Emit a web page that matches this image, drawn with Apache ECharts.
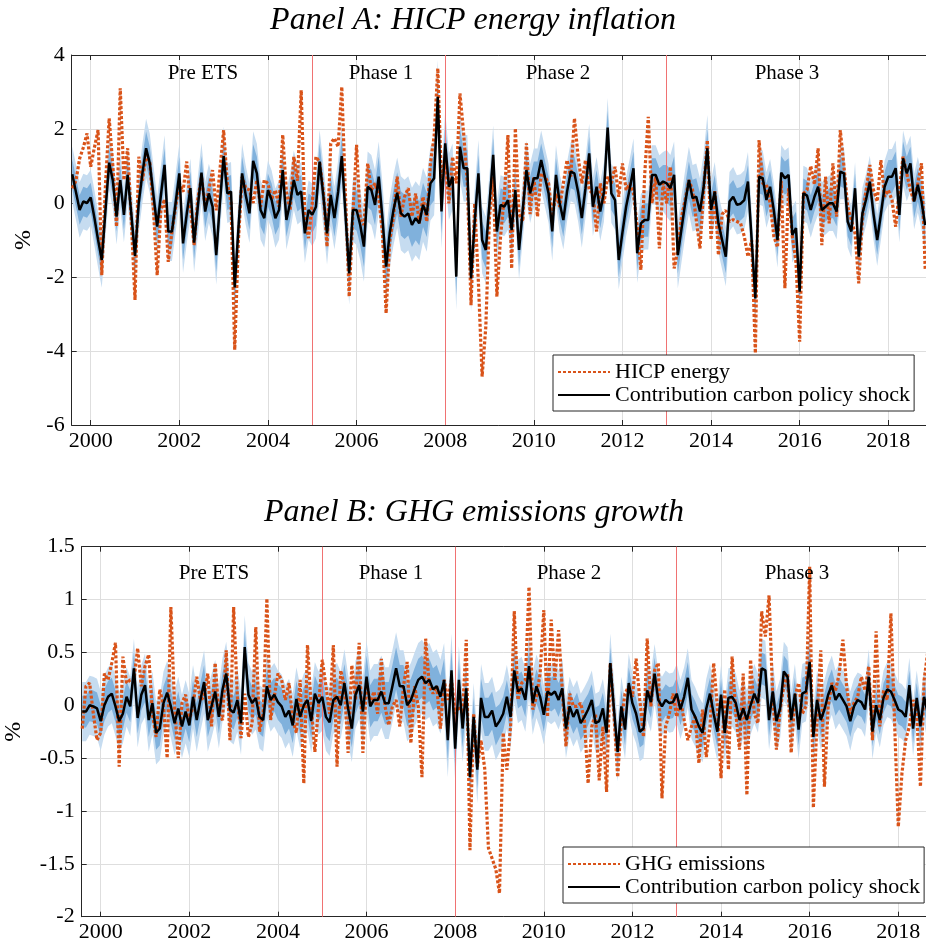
<!DOCTYPE html>
<html><head><meta charset="utf-8">
<script src="https://cdn.jsdelivr.net/npm/echarts@6/dist/echarts.min.js"></script>
<style>html,body{margin:0;padding:0;background:#fff}#c{width:926px;height:948px}</style>
</head><body><div id="c"></div>
<script>
// ---- data (monthly, starting Aug 1999) ----
const startYear = 1999, startMonth = 8;
const yearTicks = [2000,2002,2004,2006,2008,2010,2012,2014,2016,2018];
const phaseBreaks = [2005, 2008, 2013];
const phaseNames = ['Pre ETS','Phase 1','Phase 2','Phase 3'];

const hicpEnergy = [0.4,0.6,1.2,1.5,1.88,0.98,1.5,1.97,-1.95,0.5,
 2.29,1.0,-0.64,3.1,0.62,1.48,-0.5,-2.62,1.25,0.6,
 1.3,1.1,-0.2,-1.95,-0.2,0.1,-1.59,-0.77,-0.1,0.53,
 0.3,1.12,-0.1,-1.14,0.1,0.71,-0.1,0.35,0.89,-0.2,
 0.9,1.97,0.53,0.0,-3.97,-1.0,0.71,0.4,0.35,0.0,
 0.62,-0.1,0.62,0.53,0.1,0.35,-0.1,1.84,0.3,-0.2,
 1.25,0.6,3.05,-0.4,-0.95,0.0,1.25,1.1,0.3,-1.18,
 1.61,1.75,1.52,3.14,0.2,-2.53,-0.3,1.57,-0.46,-0.59,
 1.07,0.35,0.53,0.17,-0.8,-2.98,-1.0,-0.37,0.71,-0.37,
 0.17,0.4,-0.37,0.26,-0.55,0.17,-0.5,1.07,1.8,3.64,
 0.53,1.25,-0.01,1.25,0.53,2.96,1.88,0.53,-2.76,-0.01,
 -2.16,-4.69,-3.35,-0.37,0.71,-2.53,-0.9,0.17,1.84,-1.77,
 2.02,-0.3,-0.5,1.61,-0.3,0.71,-0.37,0.8,0.71,0.53,
 -0.37,0.26,-0.1,0.53,1.16,0.71,2.29,1.25,0.53,1.16,
 0.35,0.26,-0.77,0.53,-0.01,0.71,0.53,0.98,0.17,1.07,
 0.35,0.53,0.26,-0.64,-1.81,0.71,2.33,-0.01,0.71,-1.23,
 0.53,-0.01,0.98,-1.77,-1.27,-0.37,0.08,0.62,0.35,-0.46,
 -1.23,0.35,1.7,-1.0,0.35,-1.41,-0.3,-0.2,-0.5,-0.45,
 -0.5,-0.55,-0.9,-1.45,-1.0,-4.06,1.7,0.53,0.5,0.0,
 -0.9,-1.2,0.6,-2.3,0.4,-0.9,-1.6,-3.75,0.26,0.35,
 1.0,0.5,1.48,-1.14,0.71,-0.55,1.07,-0.37,1.97,0.98,
 -0.1,-0.46,-0.82,-2.17,-0.37,0.35,1.03,0.35,0.04,1.16,
 0.17,0.35,0.08,-0.64,0.35,1.25,0.8,0.35,0.04,0.53,
 1.07,-1.8];

const contribA = [0.78,0.3,-0.19,0.04,0.0,0.15,-0.4,-1.0,-1.54,-0.2,
 1.09,0.6,-0.37,0.62,-0.32,0.76,-0.3,-1.43,0.0,0.8,
 1.48,1.07,0.2,-0.64,0.2,1.03,-0.77,-0.77,0.0,0.8,
 -1.09,-0.3,0.4,-1.07,-0.1,0.82,-0.23,0.26,-0.1,-1.41,
 0.0,1.27,0.26,0.31,-2.28,-0.7,0.8,0.2,-0.28,1.14,
 0.8,-0.19,-0.41,0.35,0.08,-0.41,-0.19,0.89,-0.46,0.0,
 0.62,0.22,0.31,-0.82,-0.19,-0.32,-0.1,1.12,0.2,-0.82,
 0.22,-0.41,0.3,1.27,-0.3,-1.9,-0.19,-0.19,-0.6,-1.18,
 0.44,0.35,-0.05,0.71,-0.4,-1.72,-0.8,-0.19,0.28,-0.28,
 -0.37,-0.28,-0.59,-0.41,-0.55,-0.05,-0.32,0.53,0.67,2.87,
 -0.23,1.61,0.44,0.71,-1.99,1.52,0.94,0.94,-2.04,-0.5,
 0.8,-1.0,-1.27,0.0,1.3,-0.77,-0.05,-0.1,0.08,-0.73,
 0.35,-1.27,-0.2,0.89,0.26,0.67,0.67,1.16,0.7,0.26,
 -0.77,0.76,0.0,-0.46,0.3,0.85,0.8,0.3,-0.41,0.4,
 1.34,-0.1,0.44,-0.23,0.3,2.04,0.26,0.08,-1.54,-0.8,
 -0.1,0.4,0.94,-1.36,-0.55,-0.46,-0.46,0.76,0.76,0.49,
 0.58,0.53,0.4,0.76,-1.41,-0.7,0.0,0.62,0.13,0.17,
 -0.23,0.44,1.48,-0.19,0.31,-0.55,-1.0,-1.45,0.04,0.17,
 -0.05,-0.02,0.08,0.58,-1.0,-2.58,0.71,0.67,0.08,0.44,
 -0.2,-1.0,0.82,0.67,0.76,-0.86,-0.68,-2.4,0.26,0.2,
 -0.19,0.17,0.44,-0.19,-0.1,-0.01,-0.01,-0.23,0.85,0.8,
 -0.5,-0.77,0.4,-1.45,-0.28,0.1,0.58,-0.3,-1.0,-0.3,
 0.44,0.71,0.71,0.94,-0.32,1.21,0.8,1.07,0.04,0.49,
 0.04,-0.6];

const ghgEmissions = [-0.22,0.18,0.21,-0.08,-0.33,-0.26,0.3,0.24,0.4,0.59,
 -0.58,0.46,0.21,0.24,0.24,0.54,0.18,0.37,0.48,-0.08,
 -0.3,0.15,-0.01,-0.5,0.93,-0.01,-0.5,0.02,0.1,-0.14,
 -0.01,0.27,0.05,0.08,0.3,-0.2,0.4,-0.08,-0.14,0.52,
 -0.33,0.93,0.08,-0.31,0.11,-0.3,-0.17,0.74,-0.25,-0.08,
 1.01,-0.14,0.08,0.3,0.24,0.05,0.21,-0.14,-0.26,0.24,
 -0.74,0.57,-0.01,-0.44,-0.01,0.43,0.18,-0.08,0.57,-0.58,
 0.33,0.18,-0.45,0.38,0.05,0.59,-0.45,0.21,0.02,0.13,
 -0.08,0.44,-0.01,-0.19,-0.01,0.05,-0.2,0.18,0.41,-0.36,
 0.18,-0.01,-0.68,0.63,0.18,0.11,0.18,-0.22,0.24,0.05,
 0.24,-0.08,-0.01,-0.08,0.62,-1.37,-0.08,-0.58,-0.33,-0.6,
 -1.35,-1.45,-1.55,-1.78,-0.26,-0.61,-0.2,0.89,0.05,0.21,
 0.24,1.12,-0.04,0.08,0.3,0.9,-0.11,0.81,0.24,0.71,
 0.15,-0.39,0.11,-0.01,-0.01,0.02,-0.14,-0.74,-0.2,-0.08,
 -0.71,-0.2,-0.82,0.4,-0.08,-0.68,-0.14,0.11,0.18,0.08,
 0.44,0.05,-0.3,0.63,-0.01,0.33,0.4,-0.88,-0.2,-0.08,
 0.11,-0.11,0.05,-0.14,-0.33,-0.2,-0.11,-0.55,-0.04,-0.49,
 -0.2,0.4,-0.01,-0.69,0.15,-0.61,0.46,-0.08,-0.42,0.3,
 -0.85,0.43,-0.08,-0.17,0.89,0.65,1.04,0.08,-0.42,-0.04,
 0.18,0.3,-0.45,0.08,0.21,-0.08,-0.01,1.31,-0.97,-0.14,
 0.52,-0.77,-0.01,0.21,0.14,0.3,0.62,0.18,-0.08,0.02,
 0.08,0.27,0.14,0.37,-0.33,0.7,-0.2,0.14,0.05,0.87,
 -0.17,-1.15,-0.64,-0.33,-0.2,0.05,-0.08,-0.77,0.24,0.51];

const contribB = [-0.06,-0.06,0.0,-0.01,-0.03,-0.15,0.0,0.08,0.11,-0.01,
 -0.15,-0.08,0.08,-0.01,0.35,-0.12,0.1,0.19,-0.14,0.02,
 -0.26,-0.22,0.02,0.12,-0.01,-0.17,-0.03,-0.2,-0.06,-0.19,
 0.08,-0.14,0.05,0.22,-0.14,-0.01,0.13,-0.11,0.15,0.3,
 -0.04,-0.07,0.05,-0.17,0.55,0.1,0.02,0.07,-0.11,-0.14,
 0.18,0.05,0.1,0.03,-0.01,-0.11,-0.05,-0.19,0.06,-0.11,
 0.0,0.05,-0.15,0.11,0.02,0.08,-0.11,-0.16,0.05,0.08,
 0.0,0.21,-0.03,-0.22,0.1,0.19,-0.06,0.27,-0.01,0.05,
 0.05,0.13,0.02,0.02,0.18,0.35,0.18,0.18,0.0,0.05,
 0.15,0.24,0.27,0.21,0.24,0.15,0.18,0.08,0.24,-0.33,
 0.33,-0.41,0.24,-0.22,0.16,-0.68,-0.11,-0.61,0.07,-0.11,
 -0.11,-0.05,-0.2,-0.15,-0.08,0.08,-0.11,0.33,0.13,0.16,
 0.05,0.37,0.02,0.18,0.08,-0.09,0.13,0.1,0.13,0.05,
 0.16,-0.22,-0.01,-0.11,-0.04,-0.17,-0.11,-0.04,0.05,-0.17,
 -0.15,-0.03,-0.26,0.4,-0.04,-0.44,-0.01,-0.23,0.21,0.02,
 -0.08,-0.25,-0.22,0.14,0.03,0.3,0.05,-0.01,0.05,0.02,
 0.03,0.11,-0.04,0.08,0.26,-0.04,-0.11,-0.2,-0.26,-0.03,
 0.11,-0.08,-0.25,0.1,-0.26,0.07,0.08,0.02,-0.14,-0.03,
 -0.14,0.0,0.11,0.02,0.35,0.33,-0.14,0.13,-0.15,-0.03,
 0.32,0.27,-0.14,0.11,-0.23,0.11,0.13,0.41,-0.3,0.05,
 -0.14,-0.04,0.1,0.19,0.05,0.11,0.05,-0.01,-0.15,-0.01,
 0.05,0.03,-0.04,0.27,-0.25,0.0,-0.14,0.07,0.15,0.13,
 0.05,-0.04,-0.06,-0.11,0.19,-0.22,0.07,-0.2,0.08,-0.08];

// credible-band half widths, one per calendar year 1999..2018
const bandYears = [1999,2000,2001,2002,2003,2004,2005,2006,2007,2008,2009,2010,2011,2012,2013,2014,2015,2016,2017,2018];
const innerHalfA = [0.4,0.4,0.45,0.45,0.45,0.45,0.5,0.55,0.6,0.5,0.45,0.45,0.45,0.45,0.5,0.45,0.45,0.4,0.4,0.45];
const outerHalfA = [0.75,0.75,0.8,0.8,0.8,0.8,0.85,0.95,1.0,0.9,0.8,0.8,0.8,0.8,0.9,0.8,0.75,0.75,0.7,0.75];
const innerHalfB = [0.15,0.15,0.16,0.16,0.16,0.17,0.18,0.2,0.2,0.18,0.16,0.16,0.15,0.15,0.15,0.15,0.15,0.15,0.14,0.14];
const outerHalfB = [0.28,0.28,0.3,0.3,0.3,0.3,0.32,0.34,0.35,0.32,0.3,0.28,0.28,0.28,0.28,0.28,0.28,0.28,0.26,0.26];

// ---- layout ----
const FONT = 'Liberation Serif';
const axisStart = 1999.571;
const gridA = {left:71.7, top:55, right:0, height:370, containLabel:false, outerBoundsMode:'none'};
const gridB = {left:81.7, top:546.7, right:0, height:370, containLabel:false, outerBoundsMode:'none'};
const xMaxA = axisStart + (926 - 71.7) / 44.31;
const xMaxB = axisStart + (926 - 81.7) / 44.31;

function monthX(i){ return startYear + (startMonth - 1 + i) / 12; }
function halfAt(arr, i){ return arr[Math.floor(monthX(i) + 1e-9) - bandYears[0]]; }
function pairs(vals){ return vals.map((v,i)=>[monthX(i), v]); }

function band(vals, half, color, gi, z){
  const lo = vals.map((v,i)=>[monthX(i), v - halfAt(half,i)]);
  const hi = vals.map((v,i)=>[monthX(i), v + halfAt(half,i)]);
  return {
    type:'custom', xAxisIndex:gi*2, yAxisIndex:gi, silent:true, z, clip:true,
    data: lo.map((p,i)=>[p[0], p[1], hi[i][1]]),
    encode:{x:0, y:[1,2]},
    renderItem:(params, api)=>{
      if (params.dataIndex !== 0) return null;
      const up = hi.map(p=>api.coord(p));
      const dn = lo.map(p=>api.coord(p)).reverse();
      return {type:'polygon', shape:{points: up.concat(dn)}, style:{fill:color}};
    }
  };
}

const AX = '#262626';
function xAxes(gi, max){
  return [
    {type:'value', gridIndex:gi, min:axisStart, max, position:'bottom',
     axisLine:{show:true, onZero:false, lineStyle:{color:AX, width:1}},
     axisTick:{show:true, inside:true, length:5, customValues:yearTicks, lineStyle:{color:AX}},
     axisLabel:{show:true, customValues:yearTicks, formatter:v=>String(Math.round(v)), fontFamily:FONT, fontSize:22, color:'#000', margin:5},
     splitLine:{show:true, lineStyle:{color:'#dedede', width:1}}},
    {type:'value', gridIndex:gi, min:axisStart, max, position:'top',
     axisLine:{show:true, onZero:false, lineStyle:{color:AX, width:1}},
     axisTick:{show:true, inside:true, length:5, customValues:yearTicks, lineStyle:{color:AX}},
     axisLabel:{show:false}, splitLine:{show:false}}
  ];
}
function yAxis(gi, min, max, interval, gap){
  return {type:'value', gridIndex:gi, min, max, interval, position:'left',
    name:'%', nameLocation:'middle', nameGap:gap, nameRotate:90,
    nameTextStyle:{fontFamily:FONT, fontSize:24, color:'#000'},
    axisLine:{show:true, onZero:false, lineStyle:{color:AX, width:1}},
    axisTick:{show:true, inside:true, length:5, lineStyle:{color:AX}},
    axisLabel:{fontFamily:FONT, fontSize:22, color:'#000', margin:7},
    splitLine:{show:true, lineStyle:{color:'#dedede', width:1}}};
}

function redLines(gi){
  return {type:'line', xAxisIndex:gi*2, yAxisIndex:gi, data:[], silent:true, z:2,
    markLine:{silent:true, symbol:['none','none'], animation:false, z:2,
      label:{show:false},
      lineStyle:{color:'#f07272', width:1, type:'solid'},
      data: phaseBreaks.map(v=>({xAxis:v}))}};
}

function dataLines(gi, orangeName, orangeVals, blackVals){
  return [
    {type:'line', name:orangeName, xAxisIndex:gi*2, yAxisIndex:gi, data:pairs(orangeVals),
     symbol:'none', z:3, lineStyle:{color:'#D95319', width:3.2, type:[3,2]}, itemStyle:{color:'#D95319'}},
    {type:'line', name:'Contribution carbon policy shock', xAxisIndex:gi*2, yAxisIndex:gi, data:pairs(blackVals),
     symbol:'none', z:4, lineStyle:{color:'#000', width:2.5}, itemStyle:{color:'#000'}}
  ];
}

const legendBase = {orient:'vertical', backgroundColor:'#fff', borderColor:AX, borderWidth:1,
  borderRadius:0, padding:[6,4,5,4], itemWidth:52, itemHeight:14, itemGap:1,
  itemStyle:{color:'rgba(0,0,0,0)', borderWidth:0, opacity:0},
  textStyle:{fontFamily:FONT, fontSize:22, color:'#000', lineHeight:22}, selectedMode:false};

const phaseXA = [203, 381, 558, 787];
const phaseXB = [214, 391, 569, 797];
const graphics = [
  {type:'text', x:473, y:21, style:{text:'Panel A: HICP energy inflation', font:'italic 32px "Liberation Serif"', fill:'#000', textAlign:'center', textVerticalAlign:'middle'}},
  {type:'text', x:474, y:513, style:{text:'Panel B: GHG emissions growth', font:'italic 32px "Liberation Serif"', fill:'#000', textAlign:'center', textVerticalAlign:'middle'}}
];
phaseNames.forEach((n,k)=>{
  graphics.push({type:'text', x:phaseXA[k], y:73, z:10, style:{text:n, font:'21px "Liberation Serif"', fill:'#000', textAlign:'center', textVerticalAlign:'middle'}});
  graphics.push({type:'text', x:phaseXB[k], y:573, z:10, style:{text:n, font:'21px "Liberation Serif"', fill:'#000', textAlign:'center', textVerticalAlign:'middle'}});
});

const option = {
  animation:false,
  backgroundColor:'#fff',
  grid:[gridA, gridB],
  xAxis:[...xAxes(0, xMaxA), ...xAxes(1, xMaxB)],
  yAxis:[yAxis(0, -6, 4, 2, 36), yAxis(1, -2, 1.5, 0.5, 56)],
  legend:[
    Object.assign({}, legendBase, {left:553, top:355, data:['HICP energy','Contribution carbon policy shock']}),
    Object.assign({}, legendBase, {left:563, top:847, data:['GHG emissions','Contribution carbon policy shock']})
  ],
  graphic: graphics,
  series:[
    band(contribA, outerHalfA, '#c6dcf0', 0, 1),
    band(contribA, innerHalfA, '#80b1dc', 0, 1),
    redLines(0),
    ...dataLines(0, 'HICP energy', hicpEnergy, contribA),
    band(contribB, outerHalfB, '#c6dcf0', 1, 1),
    band(contribB, innerHalfB, '#80b1dc', 1, 1),
    redLines(1),
    ...dataLines(1, 'GHG emissions', ghgEmissions, contribB)
  ]
};
const chart = echarts.init(document.getElementById('c'));
chart.setOption(option);
</script>
</body></html>
